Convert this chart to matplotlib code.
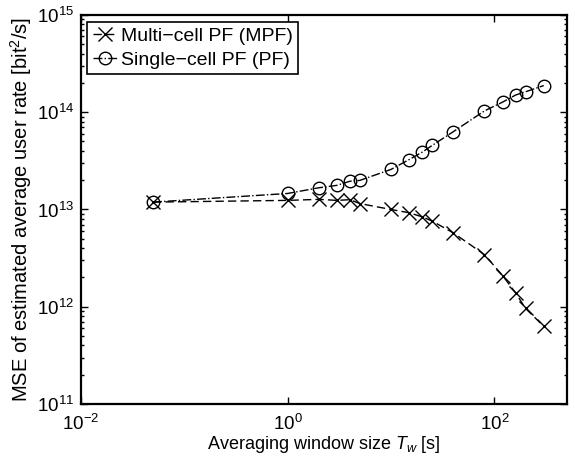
import matplotlib
matplotlib.use('Agg')
import matplotlib.pyplot as plt

plt.rcParams['font.family'] = ['Liberation Sans', 'DejaVu Sans']
plt.rcParams['mathtext.fontset'] = 'custom'
plt.rcParams['mathtext.rm'] = 'Liberation Sans'
plt.rcParams['mathtext.it'] = 'Liberation Sans:italic'
plt.rcParams['mathtext.default'] = 'regular'

# averaging window sizes [s]
t_w = [0.05, 1, 2, 3, 4, 5, 10, 15, 20, 25, 40, 80, 120, 160, 200, 300]
mse_mpf = [1.19e13, 1.24e13, 1.27e13, 1.24e13, 1.26e13, 1.15e13, 1.0e13, 9.25e12,
           8.4e12, 7.6e12, 5.75e12, 3.44e12, 2.09e12, 1.39e12, 9.6e11, 6.3e11]
mse_pf = [1.19e13, 1.46e13, 1.67e13, 1.77e13, 1.95e13, 1.99e13, 2.58e13, 3.26e13,
          3.88e13, 4.55e13, 6.3e13, 1.03e14, 1.27e14, 1.50e14, 1.62e14, 1.88e14]

fig = plt.figure(figsize=(5.75, 4.66), dpi=100)
ax = fig.add_axes([0.1403, 0.133, 0.8453, 0.835])

ax.plot(t_w, mse_mpf, 'k--x', lw=1, ms=9.5, mew=1, dashes=(6, 3),
        label='Multi\u2212cell PF (MPF)')
ax.plot(t_w, mse_pf, 'k-.o', lw=1, ms=9, mew=1, mfc='none',
        label='Single\u2212cell PF (PF)')

ax.set_xscale('log')
ax.set_yscale('log')
ax.set_xlim(1e-2, 500)
ax.set_ylim(1e11, 1e15)
ax.set_xticks([1e-2, 1e0, 1e2])
ax.xaxis.set_minor_locator(matplotlib.ticker.NullLocator())
ax.set_yticks([1e11, 1e12, 1e13, 1e14, 1e15])

ax.tick_params(which='both', direction='in', top=True, right=True, labelsize=13.5, width=1)
ax.tick_params(which='major', length=5)
ax.tick_params(which='minor', length=2.5)
ax.tick_params(axis='x', pad=7)
ax.tick_params(axis='y', pad=5)
for s in ax.spines.values():
    s.set_linewidth(1.6)

ax.set_xlabel(r'Averaging window size $\mathit{T_w}$ [s]', fontsize=13, labelpad=0)
ax.set_ylabel(r'MSE of estimated average user rate [bit$^2$/s]', fontsize=14.5, labelpad=2)

leg = ax.legend(loc='upper left', fontsize=14, fancybox=False, framealpha=1,
                edgecolor='k', handlelength=1.2, handletextpad=0.2,
                borderpad=0.3, labelspacing=0.3, borderaxespad=0.35)
leg.get_frame().set_linewidth(1.2)

fig.savefig('out.png', dpi=100)
